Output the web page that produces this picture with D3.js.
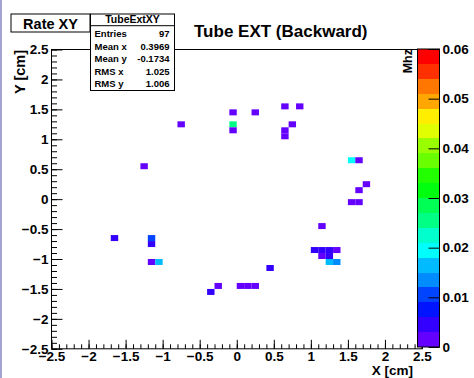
<!DOCTYPE html>
<html>
<head>
<meta charset="utf-8">
<script src="https://cdn.jsdelivr.net/npm/d3@7"></script>
<style>
  html, body { margin: 0; padding: 0; background: #fff; }
  svg { display: block; font-family: "Liberation Sans", Arial, sans-serif; font-weight: bold; }
</style>
</head>
<body>
<div id="chart"></div>
<script>
// bin centres (cm) and bin contents (Mhz)
const binX = [-0.05, 0.25, -0.75, -0.05, -0.05, -1.25, 0.65, 0.85, 0.75, 0.65, 0.65,
  1.55, 1.65, 1.75, 1.65, 1.55, 1.65, -1.65, -1.15, -1.15, -1.15, -1.05,
  -0.25, -0.35, 0.05, 0.15, 0.25, 1.15, 1.05, 1.15, 1.25, 1.35, 1.15, 1.25,
  1.25, 1.35, 0.45];
const binY = [1.45, 1.45, 1.25, 1.25, 1.15, 0.55, 1.55, 1.55, 1.25, 1.15, 1.05,
  0.65, 0.65, 0.25, 0.15, -0.05, -0.05, -0.65, -0.65, -0.75, -1.05, -1.05,
  -1.45, -1.55, -1.45, -1.45, -1.45, -0.45, -0.85, -0.85, -0.85, -0.85, -0.95, -0.95,
  -1.05, -1.05, -1.15];
const binV = [0.0015, 0.0015, 0.0015, 0.025, 0.0015, 0.0015, 0.0015, 0.0015, 0.0015, 0.0015, 0.0015,
  0.019, 0.0015, 0.0015, 0.0015, 0.0015, 0.0015, 0.004, 0.010, 0.004, 0.0015, 0.016,
  0.0015, 0.004, 0.0015, 0.0015, 0.0015, 0.0015, 0.004, 0.004, 0.004, 0.0015, 0.0015, 0.004,
  0.016, 0.013, 0.004];

const axisTicks = [-2.5, -2, -1.5, -1, -0.5, 0, 0.5, 1, 1.5, 2, 2.5];
const paletteTicks = [0, 0.01, 0.02, 0.03, 0.04, 0.05, 0.06];
const statNames = ["Entries", "Mean x", "Mean y", "RMS x", "RMS y"];
const statValues = ["97", "0.3969", "-0.1734", "1.025", "1.006"];

const cfg = {
  width: 474, height: 378,
  left: 51.5, right: 422, top: 49.5, bottom: 348.8,
  binW: 0.1, zMax: 0.06, nCont: 20
};

// ROOT "pretty palette": 50 hues from violet to red, 20 contour levels
function contourColor(v) {
  let k = Math.min(cfg.nCont - 1, Math.floor(v / (cfg.zMax / cfg.nCont)));
  let ci = Math.floor((k + 0.99) * 50 / cfg.nCont);
  return d3.hsl(280 - (ci + 1) * 5.6, 1, 0.5).formatHex();
}

const x = d3.scaleLinear([-2.5, 2.5], [cfg.left, cfg.right]);
const y = d3.scaleLinear([-2.5, 2.5], [cfg.bottom, cfg.top]);
const z = d3.scaleLinear([0, cfg.zMax], [347, 49]);

const svg = d3.select("#chart").append("svg")
  .attr("width", cfg.width)
  .attr("height", cfg.height);

svg.append("rect").attr("width", cfg.width).attr("height", cfg.height).attr("fill", "#fff");
svg.append("rect").attr("x", 0).attr("y", 0).attr("width", 2).attr("height", cfg.height).attr("fill", "#a4a4d4");

// bins
const bins = binX.map((d, i) => ({cx: d, cy: binY[i], v: binV[i]}));
svg.append("g").selectAll("rect")
  .data(bins)
  .join("rect")
  .attr("x", d => x(d.cx - cfg.binW / 2))
  .attr("y", d => y(d.cy + cfg.binW / 2))
  .attr("width", d => x(d.cx + cfg.binW / 2) - x(d.cx - cfg.binW / 2))
  .attr("height", d => y(d.cy - cfg.binW / 2) - y(d.cy + cfg.binW / 2))
  .attr("fill", d => contourColor(d.v));

// frame
svg.append("rect")
  .attr("x", cfg.left).attr("y", cfg.top)
  .attr("width", cfg.right - cfg.left).attr("height", cfg.bottom - cfg.top)
  .attr("fill", "none").attr("stroke", "#000").attr("stroke-width", 1);

const minor = d3.range(-25, 26).map(i => i / 10);

function styleAxis(g) {
  g.select(".domain").remove();
  g.selectAll("line").attr("stroke", "#000");
  g.selectAll("text").attr("fill", "#000").attr("font-size", 13.5).attr("font-family", null);
}

// y axis
svg.append("g").attr("transform", `translate(${cfg.left},0)`)
  .call(d3.axisLeft(y).tickValues(minor).tickSize(-5.5).tickFormat(""))
  .call(styleAxis);
svg.append("g").attr("transform", `translate(${cfg.left},0)`)
  .call(d3.axisLeft(y).tickValues(axisTicks).tickSize(-11).tickPadding(3).tickFormat(d3.format("")))
  .call(styleAxis);

// x axis
svg.append("g").attr("transform", `translate(0,${cfg.bottom})`)
  .call(d3.axisBottom(x).tickValues(minor).tickSize(-4.5).tickFormat(""))
  .call(styleAxis);
svg.append("g").attr("transform", `translate(0,${cfg.bottom})`)
  .call(d3.axisBottom(x).tickValues(axisTicks).tickSize(-9).tickPadding(3).tickFormat(d3.format("")))
  .call(styleAxis);

// axis titles
svg.append("text").attr("transform", "translate(25,50) rotate(-90)")
  .attr("text-anchor", "end").attr("font-size", 14.5).text("Y [cm]");
svg.append("text").attr("x", 413).attr("y", 375)
  .attr("text-anchor", "end").attr("font-size", 13.5).text("X [cm]");

// palette
const levels = d3.range(cfg.nCont).map(k => k * cfg.zMax / cfg.nCont);
svg.append("g").selectAll("rect")
  .data(levels)
  .join("rect")
  .attr("x", 417.5)
  .attr("width", 22)
  .attr("y", d => z(d + cfg.zMax / cfg.nCont))
  .attr("height", d => z(d) - z(d + cfg.zMax / cfg.nCont))
  .attr("fill", d => contourColor(d + 0.0001))
  .attr("shape-rendering", "crispEdges");
svg.append("rect").attr("x", 417.5).attr("y", 49).attr("width", 22).attr("height", 298)
  .attr("fill", "none").attr("stroke", "#000");
svg.append("g").attr("transform", "translate(439.5,0)")
  .call(d3.axisRight(z).tickValues(paletteTicks).tickSize(-11).tickPadding(3)
    .tickFormat(d => d === 0 ? "0" : d.toFixed(2)))
  .call(styleAxis);
svg.append("text").attr("transform", "translate(412,49) rotate(-90)")
  .attr("text-anchor", "end").attr("font-size", 12.5).text("Mhz");

// title boxes
svg.append("rect").attr("x", 11).attr("y", 14).attr("width", 79).attr("height", 18)
  .attr("fill", "#fff").attr("stroke", "#000");
svg.append("text").attr("x", 50.5).attr("y", 29.3).attr("text-anchor", "middle")
  .attr("font-size", 14.5).text("Rate XY");
svg.append("text").attr("x", 194).attr("y", 37.3).attr("font-size", 17).text("Tube EXT (Backward)");

// stats box
svg.append("rect").attr("x", 90.5).attr("y", 14).attr("width", 84).attr("height", 76.5)
  .attr("fill", "#fff").attr("stroke", "#000");
svg.append("line").attr("x1", 90.5).attr("x2", 174.5).attr("y1", 25.7).attr("y2", 25.7).attr("stroke", "#000");
svg.append("text").attr("x", 132.5).attr("y", 23.3).attr("text-anchor", "middle")
  .attr("font-size", 10.5).text("TubeExtXY");
const stats = svg.append("g").attr("font-size", 9.5);
statNames.forEach((n, i) => {
  let yy = 33.5 + 12.6 * i + 3.4;
  stats.append("text").attr("x", 94.5).attr("y", yy).text(n);
  stats.append("text").attr("x", 169.5).attr("y", yy).attr("text-anchor", "end").text(statValues[i]);
});
</script>
</body>
</html>
